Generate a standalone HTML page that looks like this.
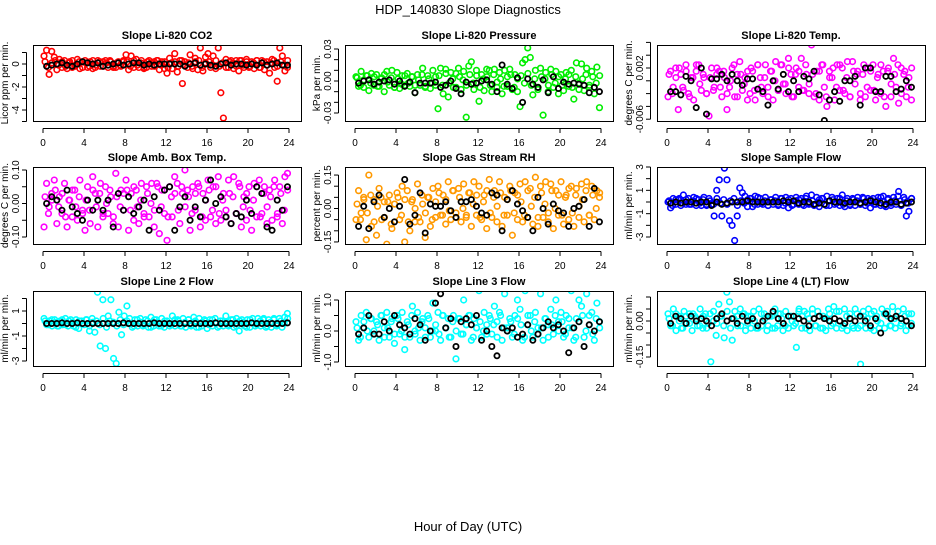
<!DOCTYPE html>
<html><head><meta charset="utf-8"><style>
html,body{margin:0;padding:0;background:#fff;}
svg text{font-family:"Liberation Sans",sans-serif;}
</style></head><body>
<svg id="chart" width="936" height="540" viewBox="0 0 936 540" xmlns="http://www.w3.org/2000/svg">
<text x="468" y="14" font-size="13" text-anchor="middle">HDP_140830  Slope Diagnostics</text>
<text x="468" y="531" font-size="13" text-anchor="middle">Hour of Day (UTC)</text>
</svg>
<script>
// ---- data (colored = all samples, black = half-hour values) ----
const hourTicks = [0,4,8,12,16,20,24];
const panelTitles = ["Slope Li-820 CO2","Slope Li-820 Pressure","Slope Li-820 Temp.","Slope Amb. Box Temp.","Slope Gas Stream RH","Slope Sample Flow","Slope Line 2 Flow","Slope Line 3 Flow","Slope Line 4 (LT) Flow"];
const yAxisTitles = ["Licor ppm per min.","kPa per min.","degrees C per min.","degrees C per min.","percent per min.","ml/min per min.","ml/min per min.","ml/min per min.","ml/min per min."];
const co2All = [0.7,1.2,-0.9,1.1,0.6,-0.5,0.4,-0.3,0.3,-0.4,0.2,-0.3,-0.2,0.4,-0.4,0.2,0.3,-0.3,0.2,-0.4,-0.3,0.3,-0.2,0.2,0.3,-0.3,0.2,-0.2,-0.3,0.2,-0.2,0.3,0.8,-0.5,0.7,-0.3,0.4,-0.3,0.3,-0.4,-0.3,0.3,-0.2,0.2,0.3,-0.5,0.2,-0.4,-0.8,0.5,-0.4,0.9,-0.7,0.3,-1.7,0.2,-0.3,0.8,-0.4,0.5,-0.5,1.4,-0.6,0.6,0.9,-0.3,0.7,-0.4,1.4,-2.5,-4.7,0.4,-0.3,0.3,-0.4,0.3,-0.6,0.3,-0.3,0.4,-0.3,0.2,-0.4,0.3,-0.3,0.3,-0.5,0.2,-0.8,0.4,-0.3,-1.5,1.4,0.7,-0.6,-0.3];
const co2Inner = [0.2,-0.3,0.1,0.3,-0.1,0.2,-0.2,0.1,0.3,-0.1,0.2,-0.3,0.1,-0.2,0.3,-0.1,0.2,-0.2,0.1,0.3,-0.3,0.1,-0.1,0.2,0.2,-0.2,0.3,-0.1,0.1,-0.3,0.2,0.1,-0.2,0.3,-0.1,0.2,-0.3,0.1,0.2,-0.2,0.3,-0.1,0.1,-0.2,0.2,0.3,-0.3,0.1,0.2,-0.1,0.3,-0.2,0.1,-0.3,0.2,0.1,-0.2,0.3,-0.1,0.2,-0.2,0.1,0.3,-0.3,0.2,-0.1,0.1,0.3,-0.2,0.2,-0.1,0.3];
const co2Half = [-0.2,-0.1,0,0.1,-0.1,-0.2,0,0.2,0.1,0,0.1,-0.2,-0.1,0,0.1,-0.1,0,0.1,0.1,-0.1,0,-0.1,0,0,0,0,0,-0.2,0,0.1,-0.1,0,-0.1,-0.2,0,0.1,-0.1,0,0,-0.1,0,-0.1,0.1,-0.1,0,0.1,-0.1,-0.1];
const presAll = [0.004,-0.005,0.009,-0.006,0.005,-0.009,0.007,-0.004,0.006,-0.005,0.003,-0.010,0.009,-0.004,0.010,-0.006,0.008,-0.007,0.005,-0.004,0.007,-0.005,0.004,-0.011,0.006,-0.004,0.012,-0.006,0.005,-0.007,0.010,-0.004,-0.026,0.012,-0.012,0.011,-0.015,0.008,-0.006,0.007,0.012,-0.008,0.009,-0.034,0.014,0.018,-0.008,0.010,-0.019,0.006,-0.009,0.011,0.010,-0.010,0.011,-0.006,0.008,-0.012,0.010,-0.005,0.011,-0.008,0.006,-0.010,-0.024,0.017,0.020,0.031,0.022,-0.013,0.010,-0.008,0.012,-0.032,0.008,-0.010,0.011,-0.006,0.009,-0.012,0.006,-0.009,0.008,-0.005,0.010,-0.017,0.017,-0.008,0.016,-0.009,0.012,-0.006,0.009,-0.012,0.013,-0.025];
const presInner = [0.003,-0.004,0.001,0.005,-0.002,0.004,-0.005,0.002,0.006,-0.001,0.003,-0.006,0.002,-0.003,0.005,-0.002,0.004,-0.004,0.001,0.006,-0.005,0.002,-0.002,0.004,0.005,-0.004,0.007,-0.002,0.002,-0.006,0.004,0.001,-0.004,0.006,-0.002,0.005,-0.006,0.002,0.004,-0.004,0.006,-0.001,0.002,-0.005,0.004,0.006,-0.006,0.002,0.005,-0.002,0.007,-0.004,0.002,-0.006,0.004,0.002,-0.004,0.006,-0.002,0.004,-0.004,0.002,0.006,-0.006,0.004,-0.002,0.002,0.006,-0.004,0.004,-0.002,0.005];
const presHalf = [-0.002,0.000,0.001,-0.003,-0.001,0.000,0.001,-0.003,0.000,-0.005,-0.001,-0.011,-0.002,-0.002,-0.002,-0.001,-0.006,-0.004,0.000,-0.007,-0.012,-0.001,-0.003,-0.002,0.000,0.001,-0.003,-0.010,0.015,-0.003,-0.007,0.003,-0.020,0.002,-0.003,-0.006,0.001,-0.011,0.004,-0.007,-0.001,-0.003,-0.002,-0.003,-0.004,-0.011,-0.006,-0.010];
const liTempAllMilli = [-2.5,1.5,-1,2,-4.5,1,-1.5,2.5,-2,0.5,-3,1.5,2.5,-1.5,0.5,-2,-5.5,2,-1,1,1.5,-2.5,0.5,-4.5,-1,2,-2.5,1,3,-1.5,0.5,-3,-2,1.5,-3,2.5,0.5,-2,2.5,-1,1.5,-3,3,-1.5,2.5,-0.5,-2,3.5,1,-2.5,2,-1,3.5,-1.5,1,-2,5.6,-2.5,1.5,-3,2.5,-1,-4,1.5,0.5,-3,2.5,-1.5,2,-2,3,-2.5,3,-0.5,1.5,-3,1,-2.5,2,-1.5,2.5,-3,1,-2,1.5,-4,2,-2.5,3.5,-1,-3.5,2,1,-2.5,0.5,-3];
const liTempInnerMilli = [1,-2,0.5,2,-1,1.5,-2.5,0.5,2.5,-0.5,1,-2,0.5,-1.5,2,-1,1.5,-2,0,2.5,-2.5,1,-0.5,1.5,2,-1.5,2.5,-1,0.5,-2.5,1.5,0,-1.5,2.5,-0.5,2,-2.5,1,1.5,-1.5,2.5,-0.5,1,-2,1.5,2.5,-2.5,0.5,2,-1,2.5,-1.5,0.5,-2.5,1.5,1,-2,2.5,-1,1.5,-1.5,0.5,2.5,-2.5,1.5,-0.5,1,2.5,-2,1.5,-1,2];
const liTempHalfMilli = [-1.7,-1.7,-2.2,0.7,0,-4.2,2,-5.2,0.3,0.3,1,0,1,0,-0.7,0.3,0.3,-1.3,-1.7,-3.8,0,-1.3,1,-1.7,0,-1.7,0.7,0.3,1.5,-2.2,-6.2,-3,-1.7,-3.2,0,0,0.7,-3.8,2,2,-1.7,-1.7,0.7,0.7,-1.7,-1.3,0,-1];
const boxTempAll = [-0.07,0.06,-0.01,0.03,0.07,-0.06,0.02,-0.03,0.06,-0.07,0.01,-0.04,0.04,-0.05,0.07,-0.02,-0.08,0.05,-0.06,0.08,0.03,-0.07,0.06,-0.04,0.05,-0.03,0.02,-0.06,0.09,-0.07,0.04,-0.02,0.07,-0.08,0.03,-0.05,0.04,-0.06,0.06,-0.03,0.05,-0.04,0.06,-0.07,0.06,-0.09,0.04,-0.03,-0.11,0.05,-0.04,0.08,0.06,-0.06,0.03,0.10,0.04,-0.08,0.05,-0.02,0.06,-0.07,0.03,-0.05,0.07,-0.04,0.05,-0.06,0.08,-0.05,0.03,-0.02,0.07,-0.06,0.08,-0.03,0.06,-0.07,0.02,-0.05,0.05,-0.08,0.06,-0.04,0.07,-0.03,0.05,-0.06,0.04,-0.05,0.07,-0.04,0.05,-0.06,0.08,0.09];
const boxTempInner = [0.02,-0.03,0.01,0.04,-0.01,0.03,-0.04,0.01,0.04,-0.01,0.02,-0.03,0.01,-0.02,0.04,-0.01,0.03,-0.03,0.0,0.04,-0.04,0.02,-0.01,0.03,0.04,-0.02,0.05,-0.01,0.01,-0.04,0.03,0.0,-0.02,0.05,-0.01,0.04,-0.04,0.02,0.03,-0.02,0.05,-0.01,0.02,-0.03,0.03,0.05,-0.04,0.01,0.04,-0.02,0.05,-0.03,0.01,-0.04,0.03,0.02,-0.03,0.05,-0.01,0.03,-0.02,0.01,0.05,-0.04,0.03,-0.01,0.02,0.05,-0.03,0.03,-0.02,0.04];
const boxTempHalf = [0,0.02,0.01,-0.02,0.04,-0.01,-0.03,-0.05,0.01,-0.02,0.01,-0.02,0.01,-0.07,0.03,-0.02,0.02,-0.03,-0.01,0.01,-0.08,0.02,-0.02,0.04,0.05,-0.08,-0.01,0.02,-0.05,-0.01,-0.04,0.01,0.07,0.00,0.02,-0.04,-0.06,-0.03,-0.04,0.01,-0.03,0.05,0.03,-0.07,-0.08,0.01,-0.02,0.05];
const rhAll = [-0.05,0.08,-0.02,0.05,-0.14,0.15,-0.08,0.04,-0.12,0.09,-0.05,0.03,-0.16,0.06,-0.09,0.02,0.07,-0.05,0.1,-0.15,0.08,-0.1,0.04,-0.06,0.11,-0.06,0.02,-0.13,0.05,-0.08,0.09,-0.04,0.1,-0.03,0.06,-0.07,0.12,-0.05,0.08,-0.02,0.09,-0.06,0.11,-0.04,0.07,-0.08,0.12,-0.03,0.1,-0.05,0.06,-0.09,0.13,-0.04,0.08,-0.06,0.12,-0.08,0.05,-0.03,0.1,-0.12,0.07,-0.05,0.11,-0.06,0.12,-0.04,0.09,-0.07,0.14,-0.08,0.1,-0.04,0.12,-0.06,0.11,-0.09,0.08,-0.03,0.12,-0.07,0.06,-0.05,0.1,-0.08,0.09,-0.04,0.11,-0.06,0.12,-0.03,0.1,-0.05,0.08,0.05];
const rhInner = [0.02,-0.05,0.04,-0.02,0.06,-0.06,0.01,0.05,-0.04,0.03,-0.07,0.02,0.05,-0.03,0.04,-0.06,0.03,0.0,-0.04,0.06,-0.02,0.05,-0.05,0.03,0.07,-0.03,0.04,-0.01,0.08,-0.04,0.05,0.0,-0.03,0.07,0.02,0.06,-0.04,0.03,0.08,-0.02,0.05,0.01,0.07,-0.03,0.04,0.08,-0.02,0.06,0.03,-0.03,0.08,0.01,0.05,-0.04,0.07,0.02,-0.02,0.08,0.0,0.06,-0.03,0.05,0.09,-0.02,0.06,0.01,0.04,0.08,-0.03,0.06,0.0,0.07];
const rhHalf = [-0.08,0.01,-0.09,0.03,0.06,-0.04,0.0,-0.06,0.01,0.13,-0.07,-0.03,0.07,-0.11,0.02,0.01,0.01,0.03,-0.01,-0.04,0.03,0.03,0.04,0.01,-0.02,-0.03,0.07,0.06,-0.1,0.04,0.08,0.02,-0.01,-0.04,-0.1,0.05,0.0,-0.07,0.02,-0.01,-0.02,-0.08,0.0,0.01,0.04,-0.08,0.09,-0.06];
const sampleFlowAll = [0,-0.5,0.3,-0.2,0.2,-0.3,0.6,-0.2,0.3,-0.2,0.4,-0.3,0.2,-0.3,0.4,-0.2,0.3,-0.2,-1.2,1.0,1.9,-1.2,2.9,1.9,-1.6,-2.0,-3.3,-1.2,1.2,0.8,0.5,-0.4,0.3,-0.4,0.5,-0.2,0.3,-0.2,0.4,-0.3,0.2,-0.2,0.4,-0.3,0.3,-0.3,0.4,-0.5,0.3,-0.2,0.4,-0.2,0.3,-0.3,0.5,-0.2,0.6,-0.3,0.4,-0.4,0.3,-0.2,0.5,-0.3,0.4,-0.2,0.3,-0.3,0.6,-0.4,0.3,-0.2,0.3,-0.3,0.4,-0.2,0.4,-0.3,0.3,-0.5,0.3,-0.2,0.4,-0.3,0.5,-0.4,0.3,-0.3,0.4,-0.2,0.9,-0.3,0.4,-1.2,-0.8,0.3];
const sampleFlowInner = [0.1,-0.3,0.2,0.3,-0.1,0.2,-0.2,0.1,0.3,-0.1,0.2,-0.3,0.1,-0.2,0.3,-0.1,0.2,-0.2,0.1,0.3,-0.3,0.1,-0.1,0.2,0.3,-0.2,0.4,-0.1,0.1,-0.3,0.2,0.1,-0.2,0.3,-0.1,0.2,-0.3,0.1,0.2,-0.2,0.3,-0.1,0.1,-0.2,0.2,0.3,-0.3,0.1,0.2,-0.1,0.3,-0.2,0.1,-0.3,0.2,0.1,-0.2,0.3,-0.1,0.2,-0.2,0.1,0.4,-0.3,0.2,-0.1,0.1,0.5,-0.2,0.2,-0.1,0.3];
const sampleFlowHalf = [-0.1,0,-0.1,0,0,-0.1,0,0,-0.3,0,-0.2,-0.1,0,0,0,0.1,0,0,0,0,0,0,0.1,0,0.1,-0.1,0,0,-0.2,-0.1,-0.2,0.1,0,0,-0.1,0,0,-0.1,0,0.1,0,-0.1,-0.2,0,0,-0.2,-0.1,0];
const line2All = [0.4,-0.1,0.2,-0.2,0.3,-0.2,0.2,-0.1,0.4,-0.2,0.3,-0.2,0.3,-0.4,0.2,-0.1,0.3,-0.6,0.4,-0.7,2.5,-1.8,1.9,-2.0,0.6,1.9,-2.8,-3.2,0.9,-0.9,0.6,1.4,0.4,-0.3,0.3,-0.2,0.4,-0.2,0.3,-0.3,0.5,-0.2,0.3,-0.2,0.4,-0.3,0.2,-0.2,0.6,-0.2,0.3,-0.2,0.4,-0.3,0.3,-0.2,0.5,-0.3,0.4,-0.2,0.3,-0.4,0.3,-0.2,0.4,-0.3,0.2,-0.2,0.6,-0.2,0.3,-0.3,0.4,-0.6,0.3,-0.2,0.3,-0.3,0.4,-0.2,0.4,-0.2,0.3,-0.3,0.3,-0.3,0.4,-0.2,0.4,-0.3,0.5,0.8];
const line2Inner = [0.2,-0.1,0.3,0.1,-0.2,0.3,-0.1,0.2,0.1,-0.3,0.2,0.0,0.3,-0.2,0.1,0.2,-0.1,0.4,-0.3,0.2,0.1,-0.2,0.3,-0.1,0.2,0.0,-0.2,0.3,0.1,-0.1,0.2,-0.3,0.3,0.1,-0.2,0.2,0.0,-0.1,0.3,0.2,-0.2,0.1,0.3,-0.1,0.2,-0.3,0.1,0.2,-0.1,0.3,0.0,-0.2,0.2,0.1,-0.1,0.3,-0.2,0.2,0.1,-0.3,0.3,0.0,-0.1,0.2,0.4,-0.2,0.1,0.3,-0.1,0.2,0.0,0.4];
const line2Half = [0,0,0,0.05,0,0,0.05,0,0,0,0,0,0,0,0,0.05,0,0,0,0,0,0.05,0,0,0,0,0,0,0,0,0,0,0,0.05,0,0,0,0,0,0,0.05,0,0,0,0,0,0,0.05];
const line3All = [0.3,-0.3,0.5,0.1,0.6,-0.2,0.4,0.0,0.3,-0.3,0.5,0.1,0.6,-0.2,0.4,-0.4,0.5,-0.1,0.6,-0.6,0.3,-0.2,0.8,0.0,0.6,-0.3,0.4,0.1,0.5,-0.2,0.9,0.0,0.6,-0.3,0.5,0.1,0.4,-0.2,0.5,-0.9,0.4,-0.1,1.0,0.2,0.5,-0.3,0.4,0.1,1.3,-0.2,0.6,0.2,0.5,-0.1,0.8,0.3,0.6,-0.3,1.2,0.1,0.4,-0.2,0.5,1.0,0.7,-0.3,1.3,0.2,0.5,-0.2,0.6,0.1,1.2,-0.3,0.4,0.2,0.7,-0.1,1.0,0.3,0.6,-0.2,0.5,0.1,1.3,-0.3,0.4,1.0,0.8,-0.2,1.2,0.5,0.6,-0.3,0.9,0.3];
const line3Inner = [0.1,-0.2,0.3,0.0,0.4,-0.1,0.2,0.5,-0.2,0.1,0.3,-0.1,0.4,0.0,-0.2,0.2,0.5,-0.1,0.1,0.3,-0.2,0.4,0.0,0.2,-0.1,0.5,0.1,-0.2,0.3,0.0,0.4,-0.1,0.2,0.5,-0.2,0.1,0.3,0.0,-0.1,0.4,0.2,-0.2,0.5,0.1,0.0,0.3,-0.1,0.4,0.2,-0.2,0.5,0.0,0.3,-0.1,0.1,0.4,-0.2,0.2,0.5,0.0,0.3,-0.1,0.4,0.1,-0.2,0.3,0.5,0.0,0.2,-0.1,0.4,0.1];
const line3Half = [-0.1,0.1,0.5,-0.1,-0.1,0.3,0,0.5,0.2,0.1,-0.1,0.4,0.2,-0.3,0,0.9,1.2,0.1,0.4,-0.5,0.3,0.4,0.2,0.5,-0.3,0,-0.5,-0.8,0.1,0,0.1,-0.2,-0.1,0.2,-0.3,-0.1,0.1,0.3,0.1,0.2,0,-0.7,0.1,0.3,-0.5,0.2,0,0.3];
const line4All = [0.03,-0.02,0.05,-0.04,0.02,-0.03,0.04,-0.01,0.03,-0.04,0.02,-0.02,0.05,-0.03,0.03,-0.01,-0.17,0.04,-0.06,0.07,0.02,-0.07,0.12,0.08,-0.08,0.04,-0.02,0.05,0.03,-0.04,0.02,-0.03,0.04,-0.03,0.05,-0.02,0.03,-0.04,0.02,-0.03,0.05,-0.02,0.03,-0.04,0.04,-0.03,0.02,-0.02,-0.11,0.05,-0.03,0.04,0.03,-0.04,0.05,-0.02,0.04,-0.03,0.02,-0.04,0.05,-0.02,0.06,-0.03,0.04,-0.03,0.05,-0.04,0.03,-0.02,0.05,-0.03,-0.18,0.04,-0.03,0.05,0.03,-0.04,0.02,-0.03,0.05,-0.03,0.04,-0.02,0.06,-0.03,0.04,-0.02,0.05,-0.04,0.03,-0.01];
const line4Inner = [0.01,-0.02,0.03,0.0,-0.03,0.02,-0.01,0.03,0.01,-0.02,0.02,-0.03,0.03,0.0,-0.01,0.02,-0.02,0.04,-0.03,0.01,0.02,-0.02,0.03,-0.01,0.02,0.0,-0.03,0.03,0.01,-0.02,0.02,-0.03,0.03,0.01,-0.02,0.02,0.0,-0.01,0.04,0.02,-0.03,0.01,0.03,-0.02,0.02,-0.03,0.01,0.03,-0.01,0.04,0.0,-0.02,0.02,0.01,-0.03,0.03,-0.02,0.02,0.01,-0.03,0.04,0.0,-0.01,0.03,0.02,-0.02,0.01,0.04,-0.01,0.02,-0.02,0.03];
const line4Half = [-0.01,0.02,0.01,-0.01,0.02,0.0,0.01,0.0,-0.02,0.01,0.03,0.0,0.01,-0.01,0.02,0.0,0.01,-0.02,0.0,0.02,0.04,0.01,-0.01,0.02,0.02,0.01,0.0,-0.02,0.01,0.02,0.01,0.0,0.01,0.0,-0.01,0.01,0.0,0.02,0.0,-0.02,0.01,-0.05,0.03,0.01,0.02,0.01,0.0,-0.02];
const co2YTicks=[-5,-4,-3,-2,-1,0,1], co2YLabels=["","-4","","-2","","0",""];
const presYTicks=[-0.03,-0.02,-0.01,0,0.01,0.02,0.03], presYLabels=["-0.03","","","0.00","","","0.03"];
const liTempYTicks=[-6,-4,-2,0,2,4,6], liTempYLabels=["-0.006","","","","0.002","",""];
const boxYTicks=[-0.1,-0.05,0,0.05,0.1], boxYLabels=["-0.10","","0.00","","0.10"];
const rhYTicks=[-0.15,-0.1,-0.05,0,0.05,0.1,0.15], rhYLabels=["-0.15","","","0.00","","","0.15"];
const sfYTicks=[-3,-2,-1,0,1,2,3], sfYLabels=["-3","","-1","","1","","3"];
const l2YTicks=[-3,-2,-1,0,1,2], l2YLabels=["-3","","-1","","1",""];
const l3YTicks=[-1,-0.5,0,0.5,1], l3YLabels=["-1.0","","0.0","","1.0"];
const l4YTicks=[-0.15,-0.1,-0.05,0,0.05,0.1], l4YLabels=["-0.15","","","0.00","",""];

// ---- layout (not data) ----
const NS="http://www.w3.org/2000/svg";
const svg=document.getElementById('chart');
const colL=[33,345,657], rowT=[45,167,291], rowB=[121,244,366], W=268;
const panels=[
 {all:co2All,inner:co2Inner,half:co2Half,col:"#ff0000",yt:co2YTicks,yl:co2YLabels,p0:64,ppu:11.5},
 {all:presAll,inner:presInner,half:presHalf,col:"#00ee00",yt:presYTicks,yl:presYLabels,p0:81,ppu:1067},
 {all:liTempAllMilli,inner:liTempInnerMilli,half:liTempHalfMilli,col:"#ff00ff",yt:liTempYTicks,yl:liTempYLabels,p0:80.8,ppu:6.4},
 {all:boxTempAll,inner:boxTempInner,half:boxTempHalf,col:"#ff00ff",yt:boxYTicks,yl:boxYLabels,p0:203.5,ppu:335},
 {all:rhAll,inner:rhInner,half:rhHalf,col:"#ff9900",yt:rhYTicks,yl:rhYLabels,p0:208.5,ppu:223},
 {all:sampleFlowAll,inner:sampleFlowInner,half:sampleFlowHalf,col:"#0000ff",yt:sfYTicks,yl:sfYLabels,p0:202,ppu:11.67},
 {all:line2All,inner:line2Inner,half:line2Half,col:"#00ffff",yt:l2YTicks,yl:l2YLabels,p0:323.5,ppu:12.5},
 {all:line3All,inner:line3Inner,half:line3Half,col:"#00ffff",yt:l3YTicks,yl:l3YLabels,p0:331,ppu:31},
 {all:line4All,inner:line4Inner,half:line4Half,col:"#00ffff",yt:l4YTicks,yl:l4YLabels,p0:321,ppu:240}
];
function mk(tag,attrs,parent){const e=document.createElementNS(NS,tag);for(const a in attrs)e.setAttribute(a,attrs[a]);(parent||svg).appendChild(e);return e;}
panels.forEach((p,i)=>{
 const r=Math.floor(i/3),c=i%3,L=colL[c],T=rowT[r],B=rowB[r];
 const g=mk('g',{});
 
 
 const xs=h=>L+10+h*(W-22)/24;
 const ys=v=>p.p0-v*p.ppu;
 const clip='clip'+i;
 const cp=mk('clipPath',{id:clip},g);mk('rect',{x:L,y:T,width:W,height:B-T},cp);
 const pts=mk('g',{'clip-path':'url(#'+clip+')'},g);
 
 
 [[p.all,0.1],[p.inner,0.2]].forEach(([arr,off])=>{
  arr.forEach((v,j)=>{
   const h=j*24/arr.length+off;
   const e=mk('circle',{cx:xs(h),cy:ys(v),r:2.8,fill:'none',stroke:p.col,'stroke-width':1.6},pts);
   
   
  });
 });
 p.half.forEach((v,j)=>{
  const h=0.5+j*0.5-0.15;
  const e=mk('circle',{cx:xs(h),cy:ys(v),r:2.6,fill:'none',stroke:'#000','stroke-width':1.8},pts);
  
  
 });
 const box=mk('rect',{x:L+0.5,y:T+0.5,width:W,height:B-T,fill:'none',stroke:'#000','stroke-width':1},g);
 
 
 const t=mk('text',{x:L+W/2,y:T-6,'font-size':11,'font-weight':'bold','text-anchor':'middle'},g);t.textContent=panelTitles[i];
 
 
 mk('line',{x1:xs(0),x2:xs(24),y1:B+7.5,y2:B+7.5,stroke:'#000'},g);
 hourTicks.forEach(h=>{
  mk('line',{x1:xs(h),x2:xs(h),y1:B+7.5,y2:B+12,stroke:'#000'},g);
  const tl=mk('text',{x:xs(h),y:B+25,'font-size':10,'text-anchor':'middle'},g);tl.textContent=h;
  
  
 });
 const yv=p.yt.map(ys);
 mk('line',{x1:L-6.5,x2:L-6.5,y1:Math.min(...yv),y2:Math.max(...yv),stroke:'#000'},g);
 p.yt.forEach((v,k)=>{
  const y=ys(v);
  mk('line',{x1:L-11,x2:L-6.5,y1:y,y2:y,stroke:'#000'},g);
  if(p.yl[k]){const tl=mk('text',{x:0,y:0,'font-size':10,'text-anchor':'middle',transform:`translate(${L-14},${y}) rotate(-90)`},g);tl.textContent=p.yl[k];
  
  }
 });
 const yt=mk('text',{x:0,y:0,'font-size':10,'text-anchor':'middle',transform:`translate(${L-25},${(T+B)/2}) rotate(-90)`},g);yt.textContent=yAxisTitles[i];
 
 
});
</script>
</body></html>
